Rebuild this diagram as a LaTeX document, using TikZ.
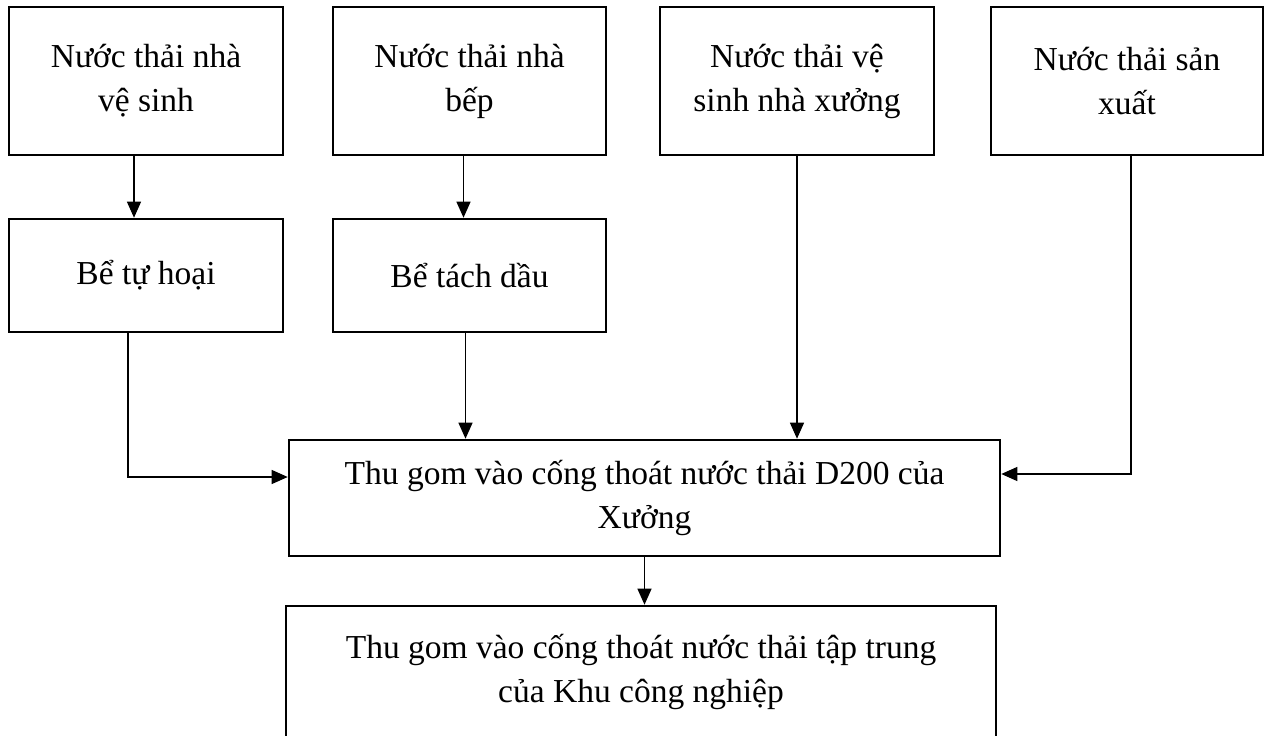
\documentclass[tikz,border=0pt]{standalone}
\usepackage{fontspec}
\setmainfont{Liberation Serif}
\usetikzlibrary{arrows.meta}
\begin{document}
\begin{tikzpicture}[x=1pt,y=-1pt,
  box/.style={draw,line width=2.6pt,align=center,inner sep=0pt,
    font=\fontsize{33.5}{44}\selectfont},
  link/.style={line width=1.2pt},
  arr/.style={link,-{Triangle[length=16pt,width=14pt]}}]
\useasboundingbox (0,0) rectangle (1264,736);
\clip (0,0) rectangle (1264,736);
% sources
\node[box,minimum width=274pt,minimum height=148pt] (b1) at (146,81) {Nước thải nhà\\vệ sinh};
\node[box,minimum width=273pt,minimum height=148pt] (b2) at (469.5,81) {Nước thải nhà\\bếp};
\node[box,minimum width=274pt,minimum height=148pt] (b3) at (797,81) {Nước thải vệ\\sinh nhà xưởng};
\node[box,minimum width=272pt,minimum height=148pt] (b4) at (1127,81) {Nước thải sản\\xuất};
% pre-treatment
\node[box,minimum width=274pt,minimum height=113pt] (b5) at (146,275.5) {Bể tự hoại};
\node[box,minimum width=273pt,minimum height=113pt] (b6) at (469.5,275.5) {Bể tách dầu};
% collection
\node[box,minimum width=711pt,minimum height=116pt] (b7) at (644.5,498) {Thu gom vào cống thoát nước thải D200 của\\Xưởng};
\node[box,minimum width=710pt,minimum height=132pt] (b8) at (641,672) {Thu gom vào cống thoát nước thải tập trung\\của Khu công nghiệp};
% connectors
\draw[arr] ([xshift=-12pt]b1.south) -- ([xshift=-12pt]b5.north);
\draw[arr] ([xshift=-6pt]b2.south) -- ([xshift=-6pt]b6.north);
\draw[arr] ([xshift=-18pt]b5.south) |- ([yshift=21pt]b7.west);
\draw[arr] ([xshift=-4pt]b6.south) -- ([xshift=-4pt]b6.south |- b7.north);
\draw[arr] (b3.south) -- (b3.south |- b7.north);
\draw[arr] ([xshift=4pt]b4.south) |- ([yshift=24pt]b7.east);
\draw[arr] (b7.south) -- (b7.south |- b8.north);
\end{tikzpicture}
\end{document}
